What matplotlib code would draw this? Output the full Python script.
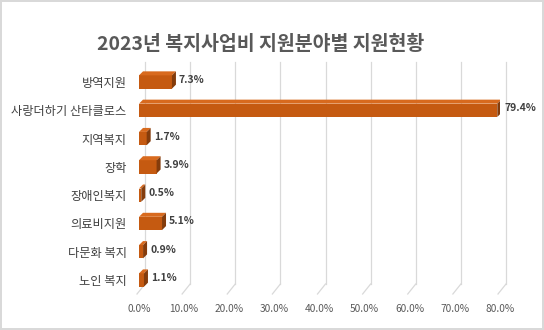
import matplotlib.pyplot as plt
from matplotlib.patches import Polygon

plt.rcParams['font.family'] = ['Noto Sans CJK KR', 'DejaVu Sans']

categories = ['방역지원', '사랑더하기 산타클로스', '지역복지', '장학',
              '장애인복지', '의료비지원', '다문화 복지', '노인 복지']
shares = [7.3, 79.4, 1.7, 3.9, 0.5, 5.1, 0.9, 1.1]
x_ticks = [0, 10, 20, 30, 40, 50, 60, 70, 80]

W, H = 544, 330
fig = plt.figure(figsize=(W / 100, H / 100), dpi=100)
fig.patch.set_edgecolor('#D9D9D9')
fig.patch.set_linewidth(1.5)

# axes box in pixels (front plane of the 3d plot)
left, right, top, bottom = 139, 500, 62, 294
ax = fig.add_axes([left / W, 1 - bottom / H, (right - left) / W, (bottom - top) / H])
y_lo, y_hi = 7.494, -0.707
ax.set_xlim(0, 80)
ax.set_ylim(y_lo, y_hi)
px_x = 80 / (right - left)
px_y = (y_lo - y_hi) / (bottom - top)

front = '#C55A11'
top_col = '#D86A1E'
side = '#843C0C'
grid = '#D9D9D9'

# back wall + floor gridlines
wall_dx = 6 * px_x
floor_back = y_lo - 10 * px_y
for t in x_ticks:
    ax.plot([t + wall_dx, t + wall_dx], [y_hi, floor_back], color=grid, lw=0.9, zorder=0, clip_on=False)
    ax.plot([t + wall_dx, t - 2 * px_x], [floor_back, y_lo], color=grid, lw=0.9, zorder=0, clip_on=False)

# bars with a little depth
h = 0.47
dx = 4 * px_x
dy = 4 * px_y
for i, v in enumerate(shares):
    ax.barh(i, v, height=h, color=front, zorder=2)
    y0 = i - h / 2
    y1 = i + h / 2
    ax.add_patch(Polygon([(0, y0), (v, y0), (v + dx, y0 - dy), (dx, y0 - dy)],
                         closed=True, facecolor=top_col, edgecolor='none', zorder=2))
    ax.add_patch(Polygon([(v, y0), (v, y1), (v + dx, y1 - dy), (v + dx, y0 - dy)],
                         closed=True, facecolor=side, edgecolor='none', zorder=2))
    ax.text(v + dx + 3 * px_x, i - dy / 2, f'{v}%', va='center', ha='left',
            fontsize=7.5, fontweight='bold', color='#404040', zorder=3)

ax.set_xticks(x_ticks)
ax.set_xticklabels([f'{t:.1f}%' for t in x_ticks], fontsize=7.3, color='#595959')
ax.set_yticks(range(len(categories)))
ax.set_yticklabels(categories, fontsize=8.8, color='#404040')
ax.tick_params(axis='x', length=0, pad=7)
ax.tick_params(axis='y', length=0, pad=9)
for s in ax.spines.values():
    s.set_visible(False)
ax.patch.set_alpha(0)

fig.text(0.48, 1 - 44 / H, '2023년 복지사업비 지원분야별 지원현황', ha='center', va='center',
         fontsize=14, fontweight='bold', color='#595959')

fig.savefig('out.png', dpi=100)
